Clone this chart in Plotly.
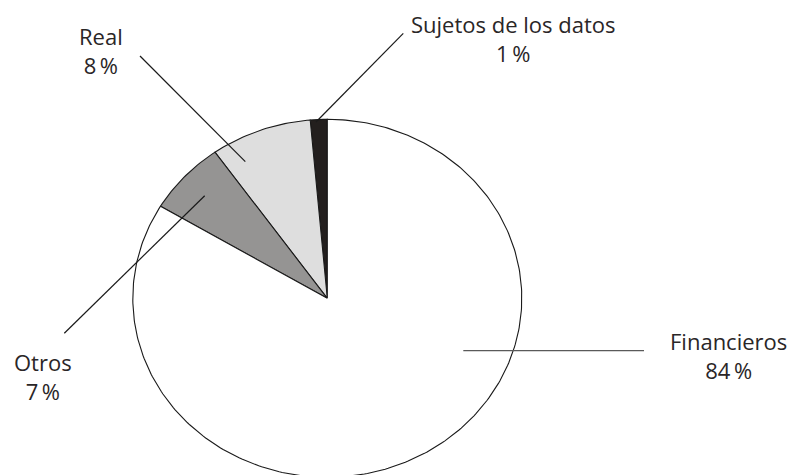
import numpy as np
import plotly.graph_objects as go

# Shares by category (percent), drawn counter-clockwise from 12 o'clock
categories = ["Sujetos de los datos", "Real", "Otros", "Financieros"]
shares = [1.4, 8.4, 6.6, 83.6]
fill_colors = ["#231f1e", "#dedede", "#959493", "#ffffff"]

W, H = 796, 475
# pie centre and radii in pixels (ellipse)
CX, CY, RX, RY = 327.3, 298.3, 194.5, 179.0

fig = go.Figure()

total = sum(shares)
start = 0.0
for name, val, col in zip(categories, shares, fill_colors):
    end = start + val / total * 2 * np.pi
    th = np.linspace(start, end, max(4, int(val * 4)))
    xs = np.concatenate([[0.0], -np.sin(th), [0.0]])
    ys = np.concatenate([[0.0], np.cos(th), [0.0]])
    fig.add_trace(go.Scatter(
        x=xs, y=ys, mode="lines", fill="toself", fillcolor=col,
        line=dict(color="#1a1a1a", width=1.1), name=name,
        hoverinfo="name", showlegend=False,
    ))
    start = end


def px(x):
    return x / W


def py(y):
    return 1 - y / H


TXT = dict(family="'Open Sans', sans-serif", size=22, color="#2a2627",
           weight=400)

# label block centre (pixels)
label_pos = {
    "Sujetos de los datos": (513, 38.5),
    "Real": (101.0, 50.5),
    "Otros": (43.3, 376.5),
    "Financieros": (728.0, 355.5),
}
# leader lines (pixel endpoints)
leaders = {
    "Sujetos de los datos": ((403.3, 33.3), (316.0, 122.0), "#1a1a1a"),
    "Real": ((140.0, 56.0), (245.3, 161.7), "#1a1a1a"),
    "Otros": ((64.3, 333.3), (204.7, 195.7), "#1a1a1a"),
    "Financieros": ((463.3, 350.7), (644.0, 350.7), "#5a5a5a"),
}

for name, val in zip(categories, shares):
    x1, y1 = label_pos[name]
    fig.add_annotation(x=px(x1), y=py(y1), xref="paper", yref="paper",
                       text=f"{name}<br>{round(val)}\u2009%", showarrow=False,
                       xanchor="center", yanchor="middle", align="center",
                       font=TXT)
    (a, b), (c, d), lc = leaders[name]
    fig.add_shape(type="line", xref="paper", yref="paper",
                  x0=px(a), y0=py(b), x1=px(c), y1=py(d),
                  line=dict(color=lc, width=1.2))

fig.update_layout(
    width=W, height=H,
    margin=dict(l=0, r=0, t=0, b=0),
    paper_bgcolor="white", plot_bgcolor="white",
    xaxis=dict(range=[-CX / RX, (W - CX) / RX], visible=False, fixedrange=True),
    yaxis=dict(range=[-(H - CY) / RY, CY / RY], visible=False, fixedrange=True),
)

fig.write_html("out.html")
